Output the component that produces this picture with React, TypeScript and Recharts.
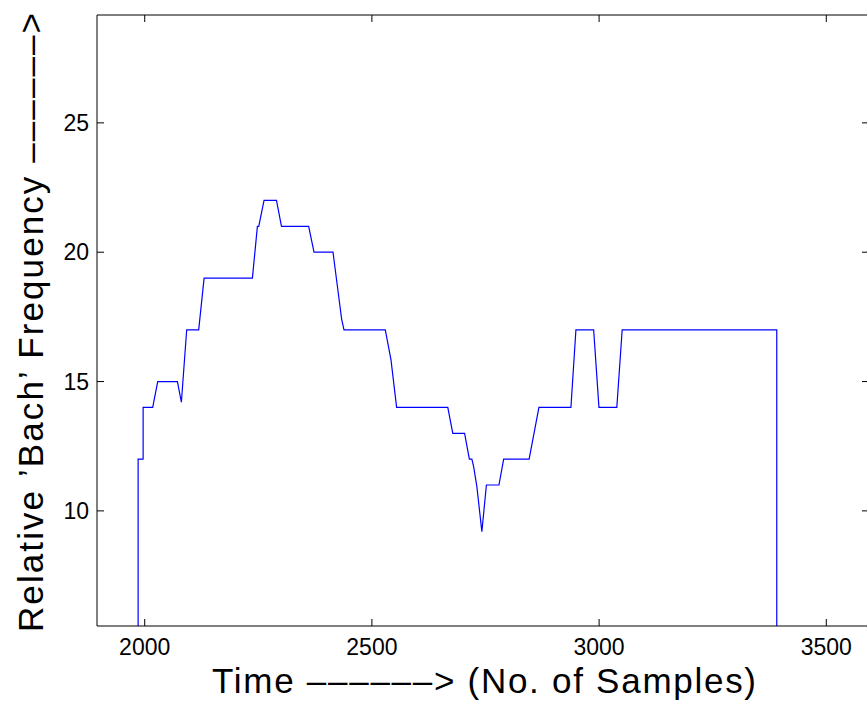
import React from "react";
import { LineChart, Line, XAxis, YAxis } from "recharts";

const sampleTimes: number[] = [
  1985.5, 1985.5, 1996.5, 1996.5, 2017.6, 2028.6, 2072, 2080.7, 2092.4, 2118.8,
  2130.7, 2237, 2248, 2251, 2262.6, 2290, 2301, 2360.8, 2372.6, 2414.4,
  2418.8, 2433.5, 2438.6, 2529.5, 2542, 2554.4, 2667, 2678, 2704, 2714.5,
  2720, 2724, 2731, 2742, 2752, 2779.6, 2790, 2846, 2867.6, 2938,
  2949, 2988, 2999.7, 3039, 3050.8, 3391, 3391,
];
const bachFrequency: number[] = [
  0, 12, 12, 14, 14, 15, 15, 14.2, 17, 17,
  19, 19, 21, 21, 22, 22, 21, 21, 20, 20,
  19.4, 17.4, 17, 17, 15.84, 14, 14, 13, 13, 12,
  12, 11.7, 10.94, 9.2, 11, 11, 12, 12, 14, 14,
  17, 17, 14, 14, 17, 17, 0,
];
const xTicks: number[] = [2000, 2500, 3000, 3500];
const yTicks: number[] = [10, 15, 20, 25];
const xDomain: [number, number] = [1895, 3594];
const yDomain: [number, number] = [5.55, 29.17];
const xTitle = "Time \u2013\u2013\u2013\u2013\u2013\u2013> (No. of Samples)";
const yTitle = "Relative \u2019Bach\u2019 Frequency \u2013\u2013\u2013\u2013\u2013\u2013>";

const data = sampleTimes.map((t, i) => ({ t, f: bachFrequency[i] }));

const FONT = "'Liberation Sans', Arial, Helvetica, sans-serif";
const TICK_LEN = 7;

const BottomTick = (props: any) => {
  const { x, y, payload } = props;
  return (
    <g>
      <line x1={x} x2={x} y1={y} y2={y - TICK_LEN} stroke="#000" strokeWidth={1} />
      <text x={x} y={y + 29} textAnchor="middle" fontSize={23} fontFamily={FONT} fill="#000">
        {payload.value}
      </text>
    </g>
  );
};
const TopTick = (props: any) => {
  const { x, y } = props;
  return <line x1={x} x2={x} y1={y} y2={y + TICK_LEN} stroke="#000" strokeWidth={1} />;
};
const LeftTick = (props: any) => {
  const { x, y, payload } = props;
  return (
    <g>
      <line x1={x} x2={x + TICK_LEN} y1={y} y2={y} stroke="#000" strokeWidth={1} />
      <text x={x - 8} y={y} dy="0.36em" textAnchor="end" fontSize={23} fontFamily={FONT} fill="#000">
        {payload.value}
      </text>
    </g>
  );
};
const RightTick = (props: any) => {
  const { x, y } = props;
  return <line x1={x} x2={x - TICK_LEN} y1={y} y2={y} stroke="#000" strokeWidth={1} />;
};

const XTitle = (props: any) => {
  const vb = props.viewBox || { x: 97, y: 626, width: 772, height: 78 };
  return (
    <text
      x={vb.x + vb.width / 2 + 1}
      y={vb.y + 67}
      textAnchor="middle"
      fontSize={35}
      fontFamily={FONT}
      fill="#000"
      textLength={544}
      lengthAdjust="spacing"
    >
      {xTitle}
    </text>
  );
};
const YTitle = (props: any) => {
  const vb = props.viewBox || { x: 0, y: 15, width: 97, height: 611 };
  const cx = 43;
  const cy = vb.y + vb.height / 2 + 2;
  return (
    <text
      x={cx}
      y={cy}
      transform={`rotate(-90 ${cx} ${cy})`}
      textAnchor="middle"
      fontSize={35}
      fontFamily={FONT}
      fill="#000"
      textLength={619}
      lengthAdjust="spacing"
    >
      {yTitle}
    </text>
  );
};

export default function App() {
  return (
    <div
      style={{
        position: "absolute",
        left: 0,
        top: 0,
        width: 867,
        height: 704,
        overflow: "hidden",
        background: "#fff",
      }}
    >
      <LineChart width={880} height={704} data={data} margin={{ top: 0, right: 0, bottom: 0, left: 0 }}>
        <XAxis
          xAxisId="bottom"
          dataKey="t"
          type="number"
          domain={xDomain}
          ticks={xTicks}
          allowDataOverflow
          orientation="bottom"
          height={78}
          tickSize={0}
          tickMargin={0}
          tickLine={false}
          axisLine={{ stroke: "#000", strokeWidth: 1 }}
          tick={BottomTick}
          interval={0}
          label={XTitle}
        />
        <XAxis
          xAxisId="top"
          dataKey="t"
          type="number"
          domain={xDomain}
          ticks={xTicks}
          allowDataOverflow
          orientation="top"
          height={15}
          tickSize={0}
          tickMargin={0}
          tickLine={false}
          axisLine={{ stroke: "#000", strokeWidth: 1 }}
          tick={TopTick}
          interval={0}
        />
        <YAxis
          yAxisId="left"
          type="number"
          domain={yDomain}
          ticks={yTicks}
          allowDataOverflow
          orientation="left"
          width={97}
          tickSize={0}
          tickMargin={0}
          tickLine={false}
          axisLine={{ stroke: "#000", strokeWidth: 1 }}
          tick={LeftTick}
          interval={0}
          label={YTitle}
        />
        <YAxis
          yAxisId="right"
          type="number"
          domain={yDomain}
          ticks={yTicks}
          allowDataOverflow
          orientation="right"
          width={11}
          tickSize={0}
          tickMargin={0}
          tickLine={false}
          axisLine={{ stroke: "#000", strokeWidth: 1 }}
          tick={RightTick}
          interval={0}
        />
        <Line
          xAxisId="bottom"
          yAxisId="left"
          type="linear"
          dataKey="f"
          stroke="#0000ff"
          strokeWidth={1.2}
          dot={false}
          activeDot={false}
          isAnimationActive={false}
        />
      </LineChart>
    </div>
  );
}
